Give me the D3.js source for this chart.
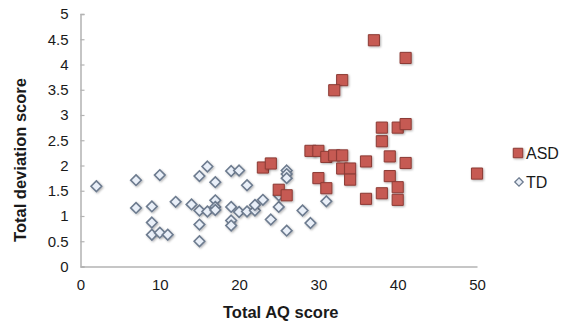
<!DOCTYPE html>
<html>
<head>
<meta charset="utf-8">
<script src="https://cdn.jsdelivr.net/npm/d3@7"></script>
<style>
  body { margin: 0; background: #fff; }
  text { font-family: "Liberation Sans", Arial, sans-serif; }
</style>
</head>
<body>
<div id="chart"></div>
<script>
var width = 567;
var height = 332;

// ASD group: [AQ score, deviation score]
var asdAQ  = [23, 24, 25, 26, 29, 30, 31, 32, 33, 30, 31, 33, 34, 34, 36, 36, 38, 38, 39, 39, 40, 40, 41, 50, 37, 41, 33, 32, 38, 40, 41];
var asdDev = [1.96, 2.04, 1.52, 1.41, 2.29, 2.29, 2.17, 2.2, 2.2, 1.75, 1.55, 1.94, 1.94, 1.72, 2.08, 1.34, 1.45, 2.48, 2.18, 1.79, 1.57, 1.32, 2.05, 1.84, 4.48, 4.13, 3.69, 3.49, 2.75, 2.75, 2.82];

// TD group
var tdAQ  = [2, 7, 10, 7, 9, 12, 9, 9, 10, 11, 14, 15, 15, 15, 15, 16, 17, 16, 17, 17, 17, 19, 20, 21, 19, 20, 19, 19, 21, 22, 22, 23, 24, 25, 25, 26, 26, 26, 26, 28, 29, 31];
var tdDev = [1.59, 1.71, 1.81, 1.16, 1.19, 1.28, 0.87, 0.63, 0.67, 0.63, 1.23, 1.11, 0.83, 0.5, 1.79, 1.98, 1.67, 1.09, 1.31, 1.18, 1.12, 1.89, 1.9, 1.61, 1.18, 1.08, 0.91, 0.81, 1.09, 1.11, 1.22, 1.32, 0.93, 1.18, 1.41, 1.9, 1.83, 1.75, 0.71, 1.11, 0.86, 1.29];

var xTicks = [0, 10, 20, 30, 40, 50];
var yTicks = [0, 0.5, 1, 1.5, 2, 2.5, 3, 3.5, 4, 4.5, 5];
var seriesNames = ["ASD", "TD"];

var xScale = d3.scaleLinear().domain([0, 50]).range([80.5, 477]);
var yScale = d3.scaleLinear().domain([0, 5]).range([266.5, 14]);

var svg = d3.select("#chart")
  .append("svg")
  .attr("width", width)
  .attr("height", height);

var defs = svg.append("defs");
var shadow = defs.append("filter").attr("id", "shadow")
  .attr("x", "-50%").attr("y", "-50%").attr("width", "200%").attr("height", "200%");
shadow.append("feDropShadow")
  .attr("dx", 1).attr("dy", 1).attr("stdDeviation", 1)
  .attr("flood-color", "#000").attr("flood-opacity", 0.3);

// axes
var xAxis = d3.axisBottom(xScale).tickValues(xTicks).tickSize(0).tickPadding(13);
var yAxis = d3.axisLeft(yScale).tickValues(yTicks).tickSize(-4).tickPadding(12)
  .tickFormat(function(d) { return String(d); });

var gx = svg.append("g")
  .attr("transform", "translate(0," + yScale(0) + ")")
  .call(xAxis);
var gy = svg.append("g")
  .attr("transform", "translate(" + xScale(0) + ",0)")
  .call(yAxis);

[gx, gy].forEach(function(g) {
  g.select(".domain").attr("stroke", "#b3b3b3").attr("stroke-width", 1.5);
  g.selectAll(".tick line").attr("stroke", "#b3b3b3").attr("stroke-width", 1.2);
  g.selectAll(".tick text").attr("fill", "#1a1a1a").style("font-size", "15px");
});

var tdData = tdAQ.map(function(x, i) { return [x, tdDev[i]]; });
var asdData = asdAQ.map(function(x, i) { return [x, asdDev[i]]; });

var diamond = d3.symbol().type(d3.symbolDiamond2).size(72);
var square = d3.symbol().type(d3.symbolSquare).size(124);

// TD diamonds
svg.append("g").selectAll("path")
  .data(tdData)
  .enter()
  .append("path")
  .attr("d", diamond)
  .attr("transform", function(d) { return "translate(" + xScale(d[0]) + "," + yScale(d[1]) + ")"; })
  .attr("fill", "#e9eff8")
  .attr("stroke", "#6d7b8f")
  .attr("stroke-width", 1.6)
  .attr("filter", "url(#shadow)");

// ASD squares
svg.append("g").selectAll("path")
  .data(asdData)
  .enter()
  .append("path")
  .attr("d", square)
  .attr("transform", function(d) { return "translate(" + xScale(d[0]) + "," + yScale(d[1]) + ")"; })
  .attr("fill", "#c65a52")
  .attr("stroke", "#8c3b35")
  .attr("stroke-width", 1)
  .attr("filter", "url(#shadow)");

// legend
var legend = svg.append("g").attr("transform", "translate(518,0)");
legend.append("path")
  .attr("d", d3.symbol().type(d3.symbolSquare).size(90))
  .attr("transform", "translate(0,153)")
  .attr("fill", "#c65a52").attr("stroke", "#8c3b35")
  .attr("filter", "url(#shadow)");
legend.append("path")
  .attr("d", d3.symbol().type(d3.symbolDiamond2).size(45))
  .attr("transform", "translate(1,182)")
  .attr("fill", "#e9eff8").attr("stroke", "#6d7b8f").attr("stroke-width", 1.3);
legend.selectAll("text")
  .data(seriesNames)
  .enter()
  .append("text")
  .attr("x", 8)
  .attr("y", function(d, i) { return 159 + i * 29; })
  .style("font-size", "16px")
  .attr("fill", "#1a1a1a")
  .text(function(d) { return d; });

// axis titles
svg.append("text")
  .attr("x", xScale(25) + 2)
  .attr("y", 318)
  .attr("text-anchor", "middle")
  .style("font-size", "16.5px")
  .style("font-weight", "bold")
  .attr("fill", "#1a1a1a")
  .text("Total AQ score");

svg.append("text")
  .attr("transform", "translate(26,160) rotate(-90)")
  .attr("text-anchor", "middle")
  .style("font-size", "16.5px")
  .style("font-weight", "bold")
  .attr("fill", "#1a1a1a")
  .text("Total deviation score");
</script>
</body>
</html>
